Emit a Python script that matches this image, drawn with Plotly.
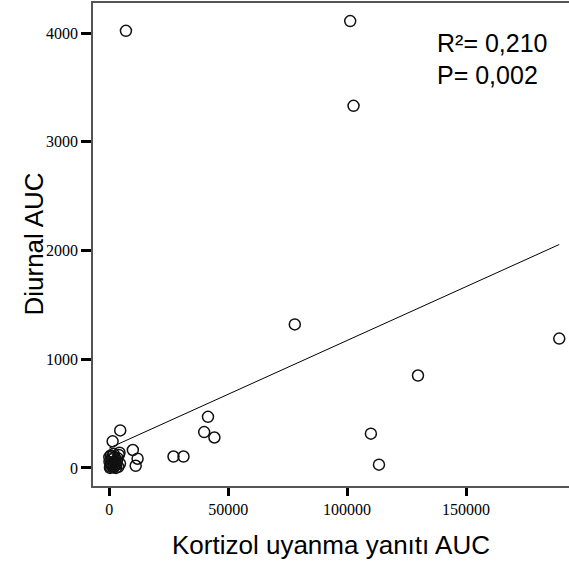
import plotly.graph_objects as go

# Kortizol uyanma yanıtı AUC (x) vs Diurnal AUC (y)
kortizol_auc = [
    7000, 101300, 102700, 78000, 189200, 129800, 110000, 113400,
    41500, 39900, 44200, 27000, 31200, 9900, 11900, 11100,
    4600, 1400, 4300, 1800, 0,
    500, 800, 1200, 1500, 2000, 2500, 3000, 1000, 2200, 3500,
    4000, 600, 1800, 2800, 3200, 700, 4500, 1300, 2600, 3800, 300, 100,
]
diurnal_auc = [
    4020, 4110, 3330, 1320, 1190, 850, 315, 30,
    470, 330, 280, 105, 105, 165, 85, 20,
    345, 245, 140, 130, 100,
    10, 30, 15, 50, 20, 60, 35, 80, 100, 90,
    120, 115, 5, 0, 70, 45, 40, 110, 25, 10, 0, 55,
]

# fitted regression line end points (as drawn)
fit_x = [0, 189200]
fit_y = [183, 2055]

sans = "Liberation Sans, Arial, sans-serif"
serif = "Liberation Serif, Times New Roman, serif"

fig = go.Figure()
fig.add_trace(go.Scatter(
    x=fit_x, y=fit_y, mode="lines",
    line=dict(color="black", width=1),
    hoverinfo="skip", showlegend=False,
))
fig.add_trace(go.Scatter(
    x=kortizol_auc, y=diurnal_auc, mode="markers",
    marker=dict(symbol="circle-open", size=11, color="#111111", line=dict(width=1.5, color="#111111")),
    showlegend=False, cliponaxis=False,
))

fig.add_annotation(x=137000, y=3908, xref="x", yref="y", text="R²= 0,210",
                   showarrow=False, xanchor="left", yanchor="middle",
                   font=dict(family=sans, size=25, color="black"))
fig.add_annotation(x=137000, y=3614, xref="x", yref="y", text="P= 0,002",
                   showarrow=False, xanchor="left", yanchor="middle",
                   font=dict(family=sans, size=25, color="black"))
# y axis title placed by hand so it sits where the original has it
fig.add_annotation(x=-0.126, y=0.5, xref="paper", yref="paper", text="Diurnal AUC",
                   textangle=-90, showarrow=False, xanchor="center", yanchor="middle",
                   font=dict(family=sans, size=26, color="black"))

fig.update_layout(
    width=569, height=562,
    margin=dict(l=93, r=0, t=3, b=76, autoexpand=False),
    paper_bgcolor="white",
    plot_bgcolor="white",
    font=dict(family=serif, size=16, color="black"),
)
fig.update_xaxes(
    range=[-6850, 193300],
    tickvals=[0, 50000, 100000, 150000], tickformat="d",
    tickfont=dict(family=serif, size=16, color="black"),
    showgrid=False, zeroline=False,
    showline=True, linecolor="#555555", linewidth=1.5, mirror=True,
    ticks="outside", ticklen=8, tickwidth=3, tickcolor="black",
    title=dict(text="Kortizol uyanma yanıtı AUC", standoff=19,
               font=dict(family=sans, size=26, color="black")),
)
fig.update_yaxes(
    range=[-166, 4276],
    tickvals=[0, 1000, 2000, 3000, 4000], tickformat="d",
    tickfont=dict(family=serif, size=16, color="black"),
    showgrid=False, zeroline=False,
    showline=True, linecolor="#555555", linewidth=1.5,
    ticks="outside", ticklen=10, tickwidth=3, tickcolor="black",
)

fig.write_html("out.html", config={"displayModeBar": False},
               post_script="document.body.style.margin='0';")
